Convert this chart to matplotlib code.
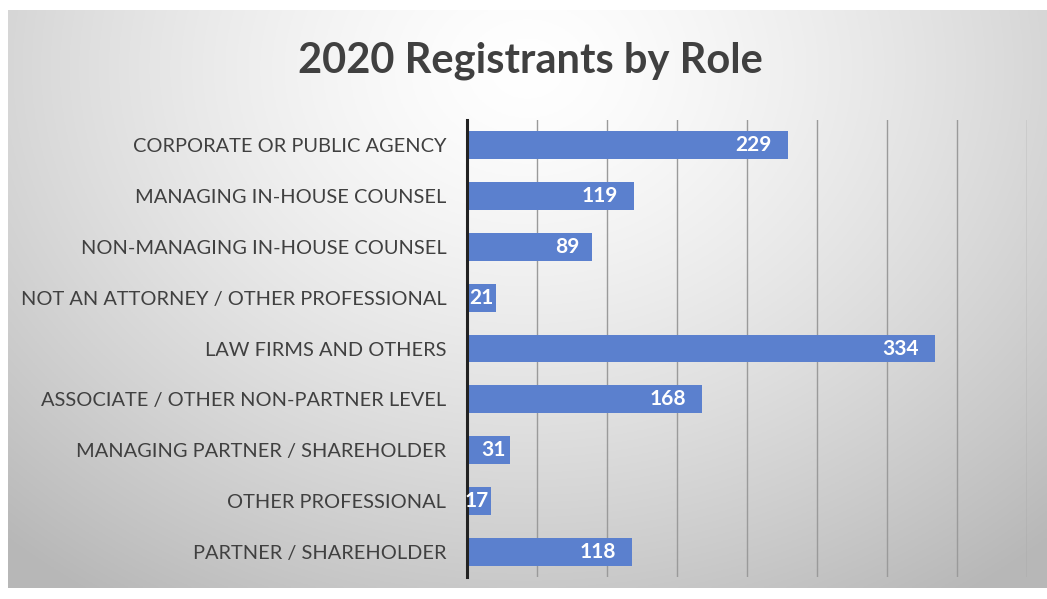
import numpy as np
import matplotlib.pyplot as plt

roles = ['CORPORATE OR PUBLIC AGENCY', 'MANAGING IN-HOUSE COUNSEL',
         'NON-MANAGING IN-HOUSE COUNSEL', 'NOT AN ATTORNEY / OTHER PROFESSIONAL',
         'LAW FIRMS AND OTHERS', 'ASSOCIATE / OTHER NON-PARTNER LEVEL',
         'MANAGING PARTNER / SHAREHOLDER', 'OTHER PROFESSIONAL',
         'PARTNER / SHAREHOLDER']
counts = [229, 119, 89, 21, 334, 168, 31, 17, 118]

plt.rcParams['font.family'] = ['Lato', 'DejaVu Sans']

fig = plt.figure(figsize=(10.47, 5.99), dpi=100)
fig.patch.set_facecolor('white')

# Gradient backdrop for the chart panel
bg = fig.add_axes([8 / 1047, 11 / 599, 1039 / 1047, 578 / 599])
bg.set_axis_off()
yy, xx = np.mgrid[0:1:300j, 0:1:500j]
r = np.sqrt(((xx - 0.5) / 0.75) ** 2 + ((yy - 0.1) / 1.1) ** 2)
shade = 1.0 - 0.28 * np.clip(r, 0, 1) ** 1.4
bg.imshow(np.dstack([shade] * 3), aspect='auto', extent=[0, 1, 0, 1],
          origin='upper')
bg.set_xlim(0, 1)
bg.set_ylim(0, 1)

ax = fig.add_axes([467 / 1047, 22 / 599, 560 / 1047, 457 / 599])
ax.patch.set_alpha(0)
y = np.arange(len(roles))
ax.barh(y, counts, height=0.55, color='#5B80CE', zorder=3)
ax.set_ylim(len(roles) - 0.5, -0.5)
ax.set_xlim(0, 400)
ax.set_xticks(np.arange(50, 401, 50))
ax.set_xticklabels([])
ax.tick_params(axis='x', length=0)
ax.tick_params(axis='y', length=0, pad=15, labelsize=14.4, labelcolor='#404040')
ax.set_yticks(y)
ax.set_yticklabels(roles)
ax.grid(axis='x', color='#9a9a9a', linewidth=1, zorder=0)
for s in ['top', 'right', 'bottom']:
    ax.spines[s].set_visible(False)
ax.spines['left'].set_linewidth(2.2)
ax.spines['left'].set_color('#222222')
ax.spines['left'].set_zorder(4)

# inside-end labels, gap shrinks for short bars
px_per_unit = 560 / 400
for yi, c in zip(y, counts):
    gap_px = min(16, 0.1 * c * px_per_unit)
    ax.annotate(str(c), (c, yi), xytext=(-gap_px * 0.72, 0),
                textcoords='offset points', ha='right', va='center',
                color='white', fontsize=15, fontweight='bold', zorder=5)

fig.text(530 / 1047, 1 - 61 / 599, '2020 Registrants by Role', ha='center',
         va='center', fontsize=30, fontweight='bold', color='#404040')

fig.savefig('out.png', dpi=100)
